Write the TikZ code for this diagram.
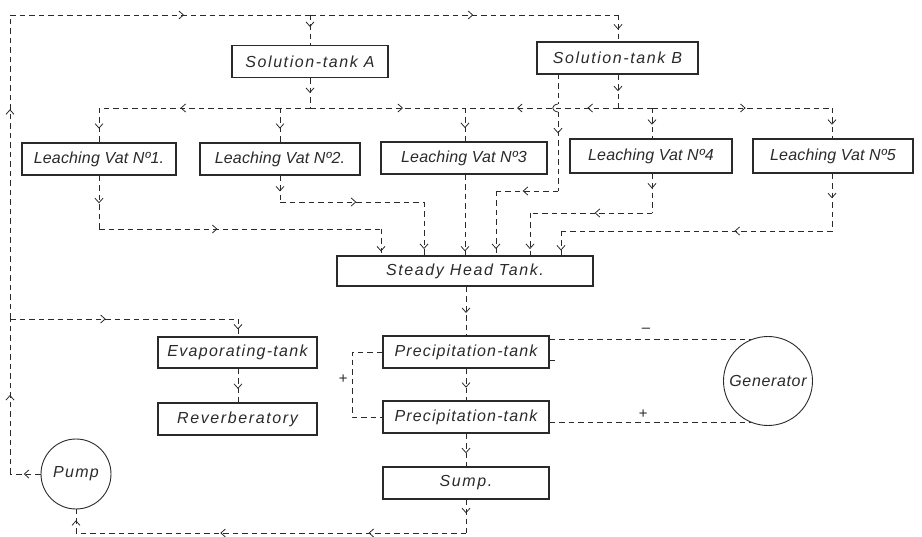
\documentclass[tikz,border=0pt]{standalone}
\usepackage{fontspec}
\setmainfont{Liberation Sans}
\usetikzlibrary{arrows.meta,decorations.markings}
\definecolor{ink}{HTML}{2A2A2A}
\newcommand{\lsp}[1]{\addfontfeature{LetterSpace=#1}}
\tikzset{
  box/.style={draw=ink, line width=1.1pt, minimum width=#1, minimum height=32pt, inner sep=0pt,
    text=ink, font=\fontsize{16}{18}\selectfont\itshape\lsp{10}},
  vatbox/.style={box=#1, font=\fontsize{16}{18}\selectfont\itshape\lsp{1}},
  circ/.style={draw=ink, circle, line width=0.9pt, inner sep=0pt, text=ink,
    font=\fontsize{16}{18}\selectfont\itshape\lsp{4}},
  dl/.style={draw=ink, line width=0.8pt, dash pattern=on 5.5pt off 4pt},
  ar/.style={postaction={decorate, decoration={markings,
    mark=at position #1 with {\arrow[solid,line width=0.8pt]{Straight Barb[length=4.5pt,width=8pt]}}}}},
  lbl/.style={text=ink, inner sep=0pt, font=\fontsize{15}{17}\selectfont\itshape}
}
\begin{document}
\begin{tikzpicture}[x=1pt,y=-1pt]
\useasboundingbox (0,0) rectangle (922,537);
% boxes
\node[box=156pt] (tA) at (310,61.5) {Solution-tank A};
\node[box=161pt] (tB) at (617.5,58) {Solution-tank B};
\node[vatbox=154pt] (v1) at (99,159) {Leaching Vat Nº1.};
\node[vatbox=160pt] (v2) at (280,159) {Leaching Vat Nº2.};
\node[vatbox=166pt] (v3) at (464,158) {Leaching Vat Nº3};
\node[vatbox=162pt, minimum height=34pt] (v4) at (651,156) {Leaching Vat Nº4};
\node[vatbox=160pt, minimum height=34pt] (v5) at (833,156) {Leaching Vat Nº5};
\node[box=256pt, minimum height=30pt] (sh) at (465,271) {Steady Head Tank.};
\node[box=166pt, font=\fontsize{16}{18}\selectfont\itshape\lsp{7}] (p1) at (466,352) {Precipitation-tank};
\node[box=166pt, font=\fontsize{16}{18}\selectfont\itshape\lsp{7}] (p2) at (466,417) {Precipitation-tank};
\node[box=166pt] (sp) at (466,483) {Sump.};
\node[box=159pt, minimum height=31pt, font=\fontsize{16}{18}\selectfont\itshape\lsp{8}] (ev) at (237.5,352.5) {Evaporating-tank};
\node[box=159pt] (rv) at (237.5,419) {Reverberatory};
\node[circ, minimum size=89pt] (gen) at (768,381) {Generator};
\node[circ, minimum size=70pt, font=\fontsize{16}{18}\selectfont\itshape\lsp{8}] (pump) at (76,474) {Pump};
% coordinates
\coordinate (c0) at (10,474);
\coordinate (cE0) at (10,319);
\coordinate (c1) at (10,15);
\coordinate (cA) at (310,15);
\coordinate (cB) at (618,15);
\coordinate (cE1) at (238,319);
\coordinate (jA) at (310,108);
\coordinate (jB) at (618,108);
\coordinate (d1) at (99,108);
\coordinate (d2) at (280,108);
\coordinate (d3) at (465,108);
\coordinate (d4) at (652,108);
\coordinate (d5) at (832,108);
\coordinate (bL) at (558,74);
\coordinate (jm1) at (558,104);
\coordinate (jm2) at (558,112);
\coordinate (bL1) at (558,191);
\coordinate (bL2) at (496,191);
\coordinate (e1) at (99,229);
\coordinate (e1b) at (381,229);
\coordinate (e2) at (280,202);
\coordinate (e2b) at (424,202);
\coordinate (e4) at (652,213);
\coordinate (e4b) at (530,213);
\coordinate (e5) at (832,231);
\coordinate (e5b) at (561,231);
\coordinate (s1) at (466,533);
\coordinate (s2) at (76,533);
\coordinate (lp) at (352,385);
% return loop
\draw[dl, ar=0.55] (pump.west) -- (c0);
\draw[dl, ar=0.51] (c0) -- (cE0);
\draw[dl, ar=0.69] (cE0) -- (c1);
\draw[dl, ar=0.58] (c1) -- (cA);
\draw[dl, ar=0.53] (cA) -- (cB);
\draw[dl, ar=0.4] (cA) -- (tA.north);
\draw[dl, ar=0.55] (cB) -- (cB |- tB.north);
\draw[dl, ar=0.42] (cE0) -- (cE1);
\draw[dl, ar=0.6] (cE1) -- (ev.north -| cE1);
\draw[dl, ar=0.6] (ev.south -| cE1) -- (rv.north -| cE1);
% distribution
\draw[dl, ar=0.5] (tA.south) -- (jA);
\draw[dl, ar=0.5] (tB.south -| jB) -- (jB);
\draw[dl] (jA) -- (d2);
\draw[dl, ar=0.55] (d2) -- (d1);
\draw[dl, ar=0.6] (jA) -- (d3);
\draw[dl, ar=0.2, ar=0.66] (jB) -- (d3);
\draw[dl] (jB) -- (d4);
\draw[dl, ar=0.52] (d4) -- (d5);
\draw[dl, ar=0.6] (d1) -- (d1 |- v1.north);
\draw[dl, ar=0.6] (d2) -- (d2 |- v2.north);
\draw[dl, ar=0.6] (d3) -- (d3 |- v3.north);
\draw[dl, ar=0.55] (d4) -- (d4 |- v4.north);
\draw[dl, ar=0.55] (d5) -- (d5 |- v5.north);
% B direct line with jump
\draw[dl] (bL) -- (jm1);
\draw[draw=ink, line width=0.8pt] (jm1) .. controls (551,105) and (551,111) .. (jm2);
\draw[dl, ar=0.27] (jm2) -- (bL1);
\draw[dl, ar=0.57] (bL1) -- (bL2);
\draw[dl, ar=0.9] (bL2) -- (bL2 |- sh.north);
% vats to steady head tank
\draw[dl, ar=0.52] (v1.south) -- (e1);
\draw[dl, ar=0.42] (e1) -- (e1b);
\draw[dl, ar=0.85] (e1b) -- (e1b |- sh.north);
\draw[dl, ar=0.6] (e2 |- v2.south) -- (e2);
\draw[dl, ar=0.53] (e2) -- (e2b);
\draw[dl, ar=0.88] (e2b) -- (e2b |- sh.north);
\draw[dl, ar=0.95] (d3 |- v3.south) -- (d3 |- sh.north);
\draw[dl, ar=0.38] (e4 |- v4.south) -- (e4);
\draw[dl, ar=0.47] (e4) -- (e4b);
\draw[dl, ar=0.85] (e4b) -- (e4b |- sh.north);
\draw[dl, ar=0.43] (e5 |- v5.south) -- (e5);
\draw[dl, ar=0.36] (e5) -- (e5b);
\draw[dl, ar=0.8] (e5b) -- (e5b |- sh.north);
% main column
\draw[dl, ar=0.54] (sh.south -| p1) -- (p1.north);
\draw[dl, ar=0.6] (p1.south) -- (p2.north);
\draw[dl, ar=0.6] (p2.south) -- (sp.north);
\draw[dl, ar=0.41] (sp.south) -- (s1);
\draw[dl, ar=0.25, ar=0.63] (s1) -- (s2);
\draw[dl, ar=0.54] (s2) -- (pump.south);
% electrical
\draw[dl] (p1.east |- gen.112) -- (gen.112);
\draw[dl] (p2.east |- gen.248) -- (gen.248);
\draw[dl] (p1.west) -| (lp) |- (p2.west);
\draw[draw=ink, line width=0.8pt] ([yshift=-8pt]p1.east) -- ++(5,0);
\node[lbl] (mi) at (646,330) {--};
\node[lbl] (pl1) at (643,414) {+};
\node[lbl] (pl2) at (343,379) {+};
\end{tikzpicture}
\end{document}
